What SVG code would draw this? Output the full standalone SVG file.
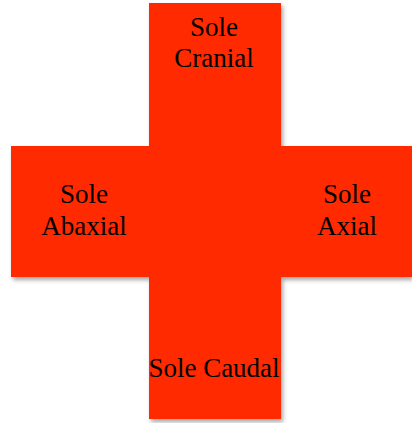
<svg xmlns="http://www.w3.org/2000/svg" width="412" height="423" viewBox="0 0 412 423">
  <style>
    .block { fill: #ff2c00; shape-rendering: crispEdges; }
    .label { font-family: "Liberation Serif", "Times New Roman", serif; font-size: 27px; fill: #000; text-anchor: middle; }
  </style>
  <defs>
    <filter id="shadow" x="-10%" y="-10%" width="120%" height="120%">
      <feDropShadow dx="2" dy="3" stdDeviation="2" flood-color="#000" flood-opacity="0.35"/>
    </filter>
  </defs>
  <rect width="412" height="423" fill="#ffffff"/>
  <g id="cross" filter="url(#shadow)">
    <g id="node-cranial"><rect class="block" x="149" y="3" width="132" height="143"/></g>
    <g id="node-abaxial"><rect class="block" x="11" y="146" width="138" height="131"/></g>
    <g id="node-center"><rect class="block" x="149" y="146" width="132" height="131"/></g>
    <g id="node-axial"><rect class="block" x="281" y="146" width="131" height="131"/></g>
    <g id="node-caudal"><rect class="block" x="149" y="277" width="132" height="142"/></g>
  </g>
  <g id="connectors"/>
  <g id="labels">
    <g id="label-cranial">
      <text class="label" x="214" y="36">Sole</text>
      <text class="label" x="214" y="67">Cranial</text>
    </g>
    <g id="label-abaxial">
      <text class="label" x="84" y="203">Sole</text>
      <text class="label" x="84" y="235">Abaxial</text>
    </g>
    <g id="label-axial">
      <text class="label" x="347" y="203">Sole</text>
      <text class="label" x="347" y="235">Axial</text>
    </g>
    <g id="label-caudal">
      <text class="label" x="214" y="377">Sole Caudal</text>
    </g>
  </g>
</svg>
